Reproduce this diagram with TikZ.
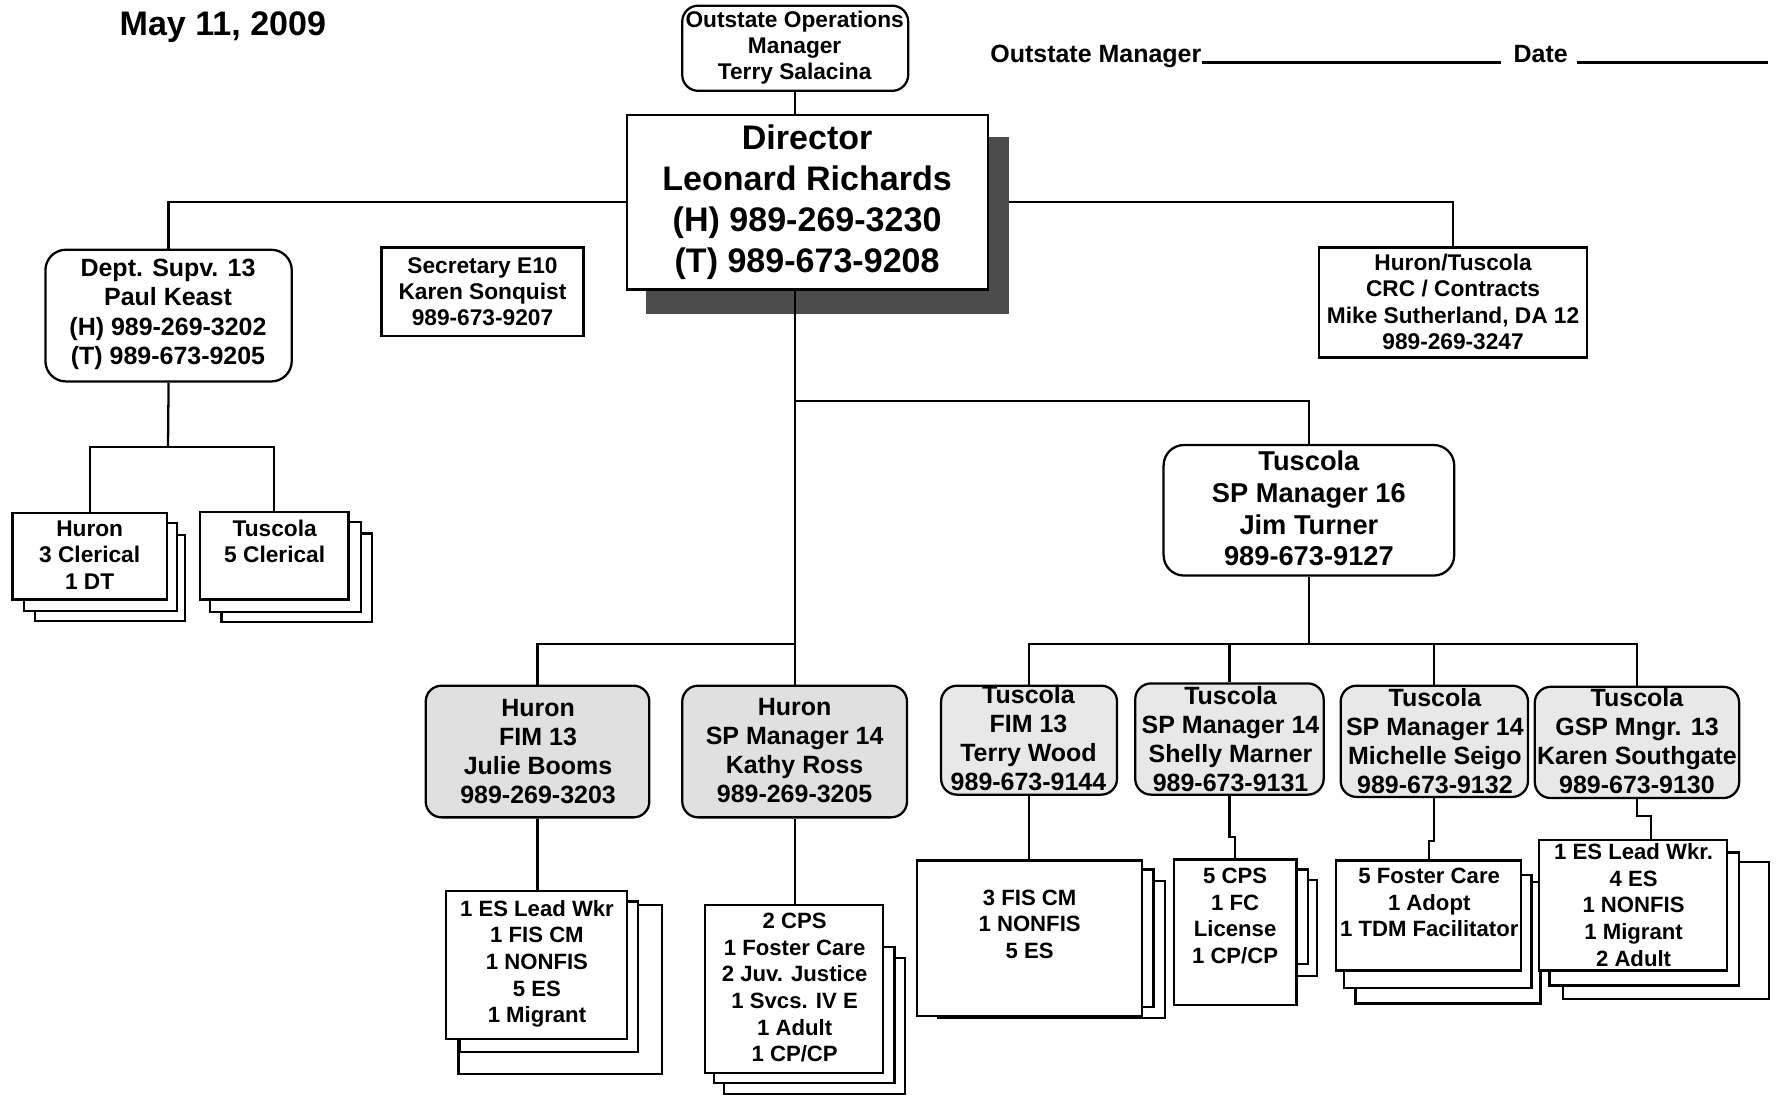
\documentclass[tikz,border=0pt]{standalone}
\usepackage{fontspec}
\setmainfont{Liberation Sans}
\usetikzlibrary{fit,backgrounds}
\newcommand\backlayer[3]{\draw[layerbox] ([shift={#2}]#1.north west) rectangle ([shift={#3}]#1.south east);}
\begin{document}
\begin{tikzpicture}[x=0.5pt, y=-0.5pt,
  rbox/.style={draw, line width=1pt, rounded corners=7pt, inner sep=0pt, fill=white},
  sbox/.style={draw, line width=1pt, inner sep=0pt, fill=white},
  hmgr/.style={rbox, fill=black!12},
  tmgr/.style={rbox, fill=black!9},
  layerbox/.style={draw, line width=1pt, fill=white},
  conn/.style={line width=1pt},
  txt/.style={align=center, inner sep=0pt},
  fdate/.style={font=\bfseries\fontsize{15}{18}\selectfont},
  fdir/.style={font=\bfseries\fontsize{15}{18}\selectfont},
  ften/.style={font=\bfseries\fontsize{10}{11.6}\selectfont},
  feleven/.style={font=\bfseries\fontsize{11}{13}\selectfont},
  fmgr/.style={font=\bfseries\fontsize{11}{12.75}\selectfont},
  ftw/.style={font=\bfseries\fontsize{12}{14}\selectfont},
  fwk/.style={font=\bfseries\fontsize{9.75}{11.75}\selectfont},
]
\useasboundingbox (0,0) rectangle (1568,965);
\begin{scope}[on background layer]
  \fill[white] (0,0) rectangle (1568,965);
\end{scope}

% header
\node[txt, fdate, anchor=west] (date) at (105,24) {May 11, 2009};
\node[txt, feleven, anchor=base west] (om) at (872,55) {Outstate Manager};
\node[txt, feleven, anchor=base west] (dt) at (1333,55) {Date};
\draw[conn] (om.base east) -- (1322,55);
\draw[conn] ([xshift=4pt]dt.base east) -- (1557,55);

% top boxes
\node[rbox, fit={(601,5) (800,80)}] (osm) {};
\node[txt, ften] (osm-t) at (700,42) {Outstate Operations\\Manager\\Terry Salacina};

\node[sbox, fit={(552,101) (870,255)}] (dir) {};
\node[txt, fdir] (dir-t) at (711,178) {Director\\Leonard Richards\\(H) 989-269-3230\\(T) 989-673-9208};

\node[rbox, rounded corners=9pt, fit={(40,220) (257,336)}] (dept) {};
\node[txt, feleven] (dept-t) at (148,277) {Dept. Supv. 13\\Paul Keast\\(H) 989-269-3202\\(T) 989-673-9205};

\node[sbox, fit={(336,218) (514,296)}] (sec) {};
\node[txt, ften] (sec-t) at (425,257) {Secretary E10\\Karen Sonquist\\989-673-9207};

\node[sbox, fit={(1162,218) (1398,315)}] (crc) {};
\node[txt, ften] (crc-t) at (1280,266) {Huron/Tuscola\\CRC / Contracts\\Mike Sutherland, DA 12\\989-269-3247};

% clerical stacks
\node[sbox, fit={(11,452) (147,528)}] (hcl) {};
\node[txt, ften] (hcl-t) at (79,489) {Huron\\3 Clerical\\1 DT};
\node[sbox, fit={(176,451) (307,528)}] (tcl) {};
\node[txt, ften] (tcl-t) at (242,477) {Tuscola\\5 Clerical};

% Tuscola SP manager 16
\node[rbox, rounded corners=9pt, fit={(1025,392) (1281,507)}] (tsp) {};
\node[txt, ftw] (tsp-t) at (1153,448) {Tuscola\\SP Manager 16\\Jim Turner\\989-673-9127};

% manager row
\node[hmgr, fit={(375,604) (572,720)}] (hfim) {};
\node[txt, fmgr] (hfim-t) at (474,662) {Huron\\FIM 13\\Julie Booms\\989-269-3203};
\node[hmgr, fit={(601,604) (799,720)}] (hsp) {};
\node[txt, fmgr] (hsp-t) at (700,661) {Huron\\SP Manager 14\\Kathy Ross\\989-269-3205};
\node[tmgr, fit={(829,604) (984,700)}] (tfim) {};
\node[txt, fmgr] (tfim-t) at (906,650) {Tuscola\\FIM 13\\Terry Wood\\989-673-9144};
\node[tmgr, fit={(1000,602) (1166,700)}] (tsm) {};
\node[txt, fmgr] (tsm-t) at (1084,651) {Tuscola\\SP Manager 14\\Shelly Marner\\989-673-9131};
\node[tmgr, fit={(1181,604) (1346,702)}] (tms) {};
\node[txt, fmgr] (tms-t) at (1264,653) {Tuscola\\SP Manager 14\\Michelle Seigo\\989-673-9132};
\node[tmgr, fit={(1352,605) (1532,703)}] (tks) {};
\node[txt, fmgr] (tks-t) at (1442,653) {Tuscola\\GSP Mngr. 13\\Karen Southgate\\989-673-9130};

% worker stacks
\node[sbox, fit={(393,785) (552,915)}] (hfw) {};
\node[txt, fwk] (hfw-t) at (473,849) {1 ES Lead Wkr\\1 FIS CM\\1 NONFIS\\5 ES\\1 Migrant};
\node[sbox, fit={(621,797) (778,945)}] (hsw) {};
\node[txt, fwk] (hsw-t) at (700,870) {2 CPS\\1 Foster Care\\2 Juv. Justice\\1 Svcs. IV E\\1 Adult\\1 CP/CP};
\node[sbox, fit={(808,758) (1006,895)}] (tfw) {};
\node[txt, fwk] (tfw-t) at (907,814) {3 FIS CM\\1 NONFIS\\5 ES};
\node[sbox, fit={(1034,757) (1142,885)}] (tsw) {};
\node[txt, fwk] (tsw-t) at (1088,807) {5 CPS\\1 FC\\License\\1 CP/CP};
\node[sbox, fit={(1177,758) (1340,855)}] (tmw) {};
\node[txt, fwk] (tmw-t) at (1259,795) {5 Foster Care\\1 Adopt\\1 TDM Facilitator};
\node[sbox, fit={(1356,740) (1521,855)}] (tkw) {};
\node[txt, fwk] (tkw-t) at (1439,797) {1 ES Lead Wkr.\\4 ES\\1 NONFIS\\1 Migrant\\2 Adult};

% shadow and back layers
\begin{scope}[on background layer]
  \fill[black!70] ([shift={(18,21)}]dir.north west) rectangle ([shift={(18,21)}]dir.south east);
  \backlayer{hcl}{(21,20)}{(15,18)}
  \backlayer{hcl}{(11,10)}{(8,9)}
  \backlayer{tcl}{(20,20)}{(20,19)}
  \backlayer{tcl}{(10,10)}{(10,10)}
  \backlayer{hfw}{(12,13)}{(30,30)}
  \backlayer{hfw}{(13,10)}{(9,11)}
  \backlayer{hsw}{(18,48)}{(18,18)}
  \backlayer{hsw}{(9,38)}{(9,8)}
  \backlayer{tfw}{(19,19)}{(19,1)}
  \backlayer{tfw}{(9,9)}{(9,-9)}
  \backlayer{tsw}{(17,19)}{(17,-26)}
  \backlayer{tsw}{(9,10)}{(9,-37)}
  \backlayer{tmw}{(18,20)}{(16,28)}
  \backlayer{tmw}{(8,14)}{(8,14)}
  \backlayer{tkw}{(22,20)}{(36,24)}
  \backlayer{tkw}{(10,12)}{(10,12)}
\end{scope}

% connectors
\draw[conn] (osm.south) -- (osm.south |- dir.north);
\draw[conn] (dir.west) -| (dept.north);
\draw[conn] ([xshift=9pt]dir.east) -| (crc.north);
\draw[conn] (hsp.north |- dir.south) -- (hsp.north);
\coordinate (j1) at (700,353);
\coordinate (j2) at (700,567);
\coordinate (j3) at (1153,567);
\coordinate (dj) at (148,394);
\draw[conn] (j1) -| (tsp.north);
\draw[conn] (j2) -| (hfim.north);
\draw[conn] (tsp.south) -- (j3);
\draw[conn] (tfim.north) |- (j3) -| (tks.north);
\draw[conn] (tsm.north) -- (tsm.north |- j3);
\draw[conn] (tms.north) -- (tms.north |- j3);
\draw[conn] (dept.south) -- (dj);
\draw[conn] (hcl.north) |- (dj) -| (tcl.north);
\draw[conn] (hfim.south) -- (hfim.south |- hfw.north);
\draw[conn] (hsp.south) -- (hsp.south |- hsw.north);
\draw[conn] (tfim.south) -- (tfim.south |- tfw.north);
\draw[conn] (tsm.south) -- ++(0,36) -| (tsw.north);
\draw[conn] (tms.south) -- ++(0,38) -| (tmw.north);
\draw[conn] (tks.south) -- ++(0,15) -| ([xshift=8pt]tkw.north);
\end{tikzpicture}
\end{document}
